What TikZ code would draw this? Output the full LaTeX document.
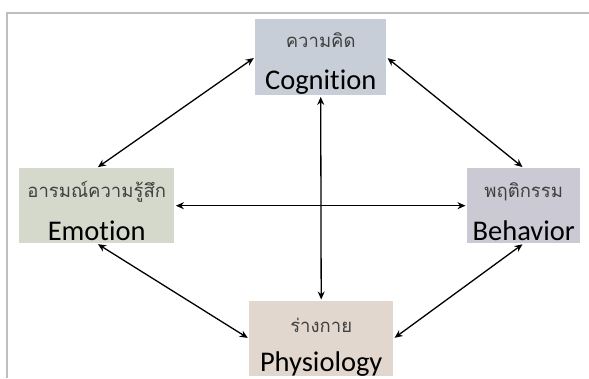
\documentclass[tikz,border=0pt]{standalone}
\usepackage{fontspec}
\setmainfont[Ligatures=NoCommon]{Carlito}
\newfontfamily\thaifont[Script=Thai]{Loma}
\usetikzlibrary{arrows.meta}
\definecolor{cogfill}{RGB}{200,206,216}
\definecolor{emofill}{RGB}{213,217,204}
\definecolor{behfill}{RGB}{203,201,212}
\definecolor{phyfill}{RGB}{226,215,206}
\definecolor{framegray}{RGB}{190,190,190}
\definecolor{thaigray}{RGB}{64,64,64}
\tikzset{
  box/.style={rectangle, draw=none, inner sep=0pt, anchor=north west},
  thailbl/.style={font=\thaifont\fontsize{18.5}{21}\selectfont, text=thaigray, inner sep=0pt},
  englbl/.style={font=\fontsize{28.5}{30}\selectfont, text=black, inner sep=0pt},
  link/.style={{Stealth[length=8pt,width=7pt]}-{Stealth[length=8pt,width=7pt]}, line width=1.3pt, black, shorten <=1.5pt, shorten >=1.5pt}
}
\begin{document}
\begin{tikzpicture}[x=1pt,y=-1pt]
\useasboundingbox (0,0) rectangle (589,378);
\clip (0,0) rectangle (589,378);
\fill[white] (0,0) rectangle (589,378);
\draw[framegray, line width=2pt] (7,378) -- (7,13) -- (589,13);
% boxes
\node[box, fill=cogfill, minimum width=131pt, minimum height=76pt] (cog) at (255,19) {};
\node[box, fill=emofill, minimum width=155pt, minimum height=75pt] (emo) at (19,168) {};
\node[box, fill=behfill, minimum width=113pt, minimum height=75pt] (beh) at (467,168) {};
\node[box, fill=phyfill, minimum width=144pt, minimum height=75pt] (phy) at (249,301) {};
% texts
\node[thailbl] (cogth) at ([yshift=-21pt]cog.north) {ความคิด};
\node[englbl] (cogen) at ([yshift=-63pt]cog.north) {Cognition};
\node[thailbl] (emoth) at ([yshift=-24pt]emo.north) {อารมณ์ความรู้สึก};
\node[englbl] (emoen) at ([yshift=-63pt]emo.north) {Emotion};
\node[thailbl] (behth) at ([yshift=-24pt]beh.north) {พฤติกรรม};
\node[englbl] (behen) at ([yshift=-63pt]beh.north) {Behavior};
\node[thailbl] (phyth) at ([yshift=-24pt]phy.north) {ร่างกาย};
\node[englbl] (phyen) at ([yshift=-63pt]phy.north) {Physiology};
% connectors
\draw[link] (emo.north) -- (cog.west);
\draw[link] (cog.east) -- (beh.north);
\draw[link] (emo.east) -- (beh.west);
\draw[link] (cog.south) -- (phy.north);
\draw[link] (emo.south) -- (phy.west);
\draw[link] (beh.south) -- (phy.east);
\end{tikzpicture}
\end{document}
